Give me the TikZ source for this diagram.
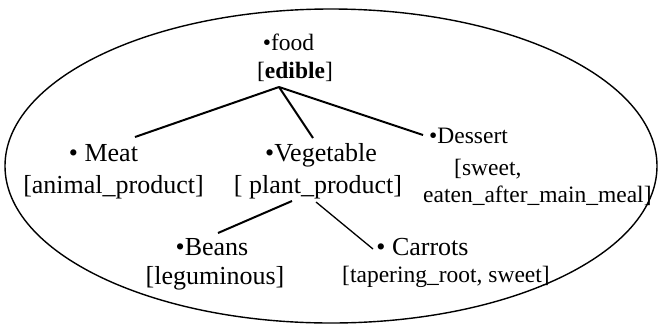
\documentclass[tikz,border=0pt]{standalone}
\usepackage{fontspec}
\setmainfont{Liberation Serif}
\begin{document}
\begin{tikzpicture}[x=1pt,y=-1pt,
  txt/.style={inner sep=0pt, anchor=base, font=\fontsize{23.5}{28}\selectfont},
  big/.style={txt, font=\fontsize{26}{30}\selectfont},
  txtw/.style={txt, anchor=base west},
  link/.style={line width=2pt},
  thinlink/.style={line width=1.3pt},
  frame/.style={line width=1.4pt}]
\useasboundingbox (0,0) rectangle (662,325);
\draw[frame] (331,166) ellipse [x radius=326, y radius=157];
% nodes
\node[txt] (food) at (288.5,50) {•food};
\node[txt] (foodattr) at (295,78) {[\textbf{edible}]};
\node[big] (meat) at (103.5,161) {• Meat};
\node[big] (meatattr) at (113.5,193) {[animal\_product]};
\node[big] (veg) at (321,161) {•Vegetable};
\node[big] (vegattr) at (318,193) {[ plant\_product]};
\node[txtw] (dessert) at (429,143) {•Dessert};
\node[txtw] (dessertattr) at (454,175) {[sweet,};
\node[txtw] (dessertattrb) at (423,202) {eaten\_after\_main\_meal]};
\node[big] (beans) at (212,255) {•Beans};
\node[big] (beansattr) at (215,284) {[leguminous]};
\node[big] (carrots) at (422.5,255) {• Carrots};
\node[txt] (carrotsattr) at (446,282) {[tapering\_root, sweet]};
% connector ends
\coordinate (foodout) at (279,87);
\coordinate (meatin) at (135,137);
\coordinate (vegin) at (313,138);
\coordinate (dessertin) at (423,135);
\coordinate (vegoutl) at (292,201);
\coordinate (vegoutr) at (316,202);
\coordinate (beansin) at (218,233);
\coordinate (carrotsin) at (373,249);
\draw[link] (foodout) -- (meatin);
\draw[link] (foodout) -- (vegin);
\draw[link] (foodout) -- (dessertin);
\draw[link] (vegoutl) -- (beansin);
\draw[thinlink] (vegoutr) -- (carrotsin);
\end{tikzpicture}
\end{document}
